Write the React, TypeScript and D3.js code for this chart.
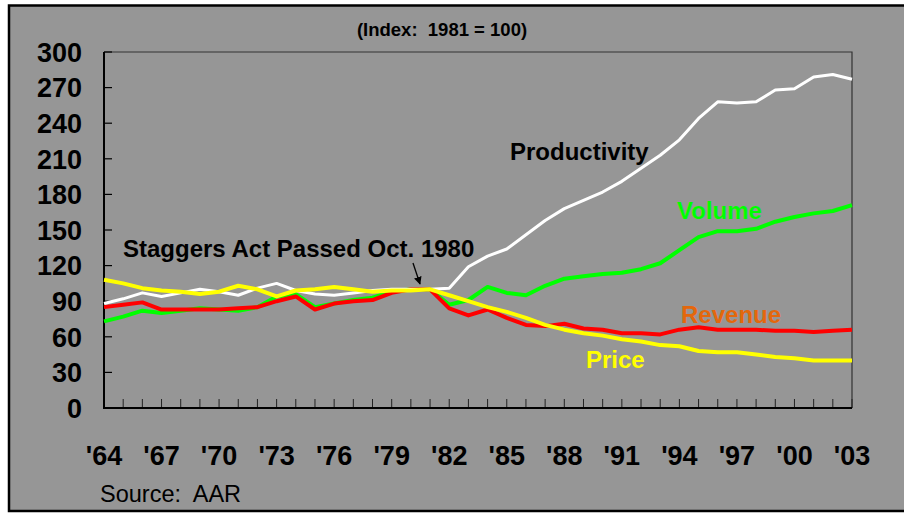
import * as d3 from 'd3';
import React, { useEffect } from 'react';

const years = d3.range(1964, 2004);

const productivity = [
  88, 92, 97, 94, 97, 100, 98, 95, 101, 105, 99, 96, 95, 97, 99, 100, 100, 100, 101, 119,
  128, 134, 146, 158, 168, 175, 182, 191, 202, 213, 226, 244, 258, 257, 258, 268, 269, 279, 281, 277,
];
const volume = [
  73, 77, 82, 80, 82, 84, 83, 82, 85, 94, 96, 85, 88, 91, 93, 98, 100, 100, 87, 91,
  102, 97, 95, 103, 109, 111, 113, 114, 117, 122, 133, 144, 149, 149, 151, 157, 161, 164, 166, 171,
];
const revenue = [
  85, 87, 89, 83, 83, 83, 83, 84, 85, 90, 94, 83, 88, 90, 91, 97, 100, 100, 84, 78,
  83, 76, 70, 69, 71, 67, 66, 63, 63, 62, 66, 68, 66, 66, 66, 65, 65, 64, 65, 66,
];
const price = [
  108, 105, 101, 99, 98, 96, 98, 103, 100, 94, 99, 100, 102, 100, 98, 99, 99, 100, 95, 90,
  85, 81, 76, 70, 66, 63, 61, 58, 56, 53, 52, 48, 47, 47, 45, 43, 42, 40, 40, 40,
];

const yTicks = d3.range(0, 301, 30);
const xTickYears = d3.range(1964, 2004, 3);

export default function App() {
  const ref = React.useRef<HTMLDivElement>(null);

  useEffect(() => {
    if (!ref.current) return;
    ref.current.innerHTML = '';
    document.body.style.margin = '0';

    const W = 904;
    const H = 513;
    const left = 104;
    const right = 852;
    const top = 52;
    const bottom = 408;
    const font = "'Liberation Sans', Arial, sans-serif";

    const x = d3.scalePoint<number>().domain(years).range([left, right]);
    const y = d3.scaleLinear().domain([0, 300]).range([bottom, top]);

    const svg = d3
      .select(ref.current)
      .append('svg')
      .attr('width', W)
      .attr('height', H)
      .style('display', 'block');

    // frame
    svg.append('rect').attr('width', W).attr('height', H).attr('fill', '#ffffff');
    svg
      .append('rect')
      .attr('x', 9)
      .attr('y', 5.5)
      .attr('width', W + 10)
      .attr('height', 505.5)
      .attr('fill', '#969696')
      .attr('stroke', '#000')
      .attr('stroke-width', 2.5);

    // title
    svg
      .append('text')
      .attr('x', 442)
      .attr('y', 36)
      .attr('text-anchor', 'middle')
      .attr('font-family', font)
      .attr('font-weight', 'bold')
      .attr('font-size', 18.5)
      .text('(Index:\u00a0 1981 = 100)');

    // plot border (top/right)
    svg
      .append('path')
      .attr('d', `M${left},${top}H${right}V${bottom}`)
      .attr('fill', 'none')
      .attr('stroke', '#333')
      .attr('stroke-width', 1.2);

    // y ticks + labels
    yTicks.forEach(t => {
      svg
        .append('line')
        .attr('x1', left)
        .attr('x2', left + 8)
        .attr('y1', y(t))
        .attr('y2', y(t))
        .attr('stroke', '#000')
        .attr('stroke-width', 1.2);
      svg
        .append('text')
        .attr('x', 82)
        .attr('y', y(t))
        .attr('dy', '0.36em')
        .attr('text-anchor', 'end')
        .attr('font-family', font)
        .attr('font-weight', 'bold')
        .attr('font-size', 27)
        .text(t);
    });

    // x ticks
    years.forEach(yr => {
      svg
        .append('line')
        .attr('x1', x(yr) as number)
        .attr('x2', x(yr) as number)
        .attr('y1', bottom)
        .attr('y2', bottom - 9)
        .attr('stroke', '#222')
        .attr('stroke-width', 1);
    });
    xTickYears.forEach(yr => {
      svg
        .append('text')
        .attr('x', x(yr) as number)
        .attr('y', 465)
        .attr('text-anchor', 'middle')
        .attr('font-family', font)
        .attr('font-weight', 'bold')
        .attr('font-size', 27)
        .text("'" + String(yr).slice(2));
    });

    // axes lines
    svg
      .append('path')
      .attr('d', `M${left},${top}V${bottom}H${right}`)
      .attr('fill', 'none')
      .attr('stroke', '#000')
      .attr('stroke-width', 2);

    const line = d3
      .line<number>()
      .x((d, i) => x(years[i]) as number)
      .y(d => y(d));

    const series = [
      { values: volume, color: '#00ff00', width: 4 },
      { values: revenue, color: '#ff0000', width: 4 },
      { values: productivity, color: '#ffffff', width: 3 },
      { values: price, color: '#ffff00', width: 4 },
    ];
    series.forEach(s => {
      svg
        .append('path')
        .datum(s.values)
        .attr('fill', 'none')
        .attr('stroke', s.color)
        .attr('stroke-width', s.width)
        .attr('stroke-linejoin', 'round')
        .attr('d', line);
    });

    // labels
    const labels = [
      { text: 'Productivity', x: 510, y: 160, color: '#000' },
      { text: 'Volume', x: 677, y: 219, color: '#00ff00' },
      { text: 'Revenue', x: 681, y: 323, color: '#e4670c' },
      { text: 'Price', x: 586, y: 368, color: '#ffff00' },
      { text: 'Staggers Act Passed Oct. 1980', x: 123, y: 257, color: '#000' },
    ];
    labels.forEach(l => {
      svg
        .append('text')
        .attr('x', l.x)
        .attr('y', l.y)
        .attr('font-family', font)
        .attr('font-weight', 'bold')
        .attr('font-size', 24)
        .attr('fill', l.color)
        .text(l.text);
    });

    // arrow
    svg
      .append('defs')
      .append('marker')
      .attr('id', 'arr')
      .attr('viewBox', '0 0 10 10')
      .attr('refX', 9)
      .attr('refY', 5)
      .attr('markerWidth', 6)
      .attr('markerHeight', 6)
      .attr('orient', 'auto')
      .append('path')
      .attr('d', 'M0,0L10,5L0,10z')
      .attr('fill', '#000');
    svg
      .append('line')
      .attr('x1', 413)
      .attr('y1', 263)
      .attr('x2', 420)
      .attr('y2', 284)
      .attr('stroke', '#000')
      .attr('stroke-width', 1.3)
      .attr('marker-end', 'url(#arr)');

    // source
    svg
      .append('text')
      .attr('x', 100)
      .attr('y', 502)
      .attr('font-family', font)
      .attr('font-size', 23.5)
      .text('Source:\u00a0 AAR');
  }, []);

  return <div ref={ref}></div>;
}
